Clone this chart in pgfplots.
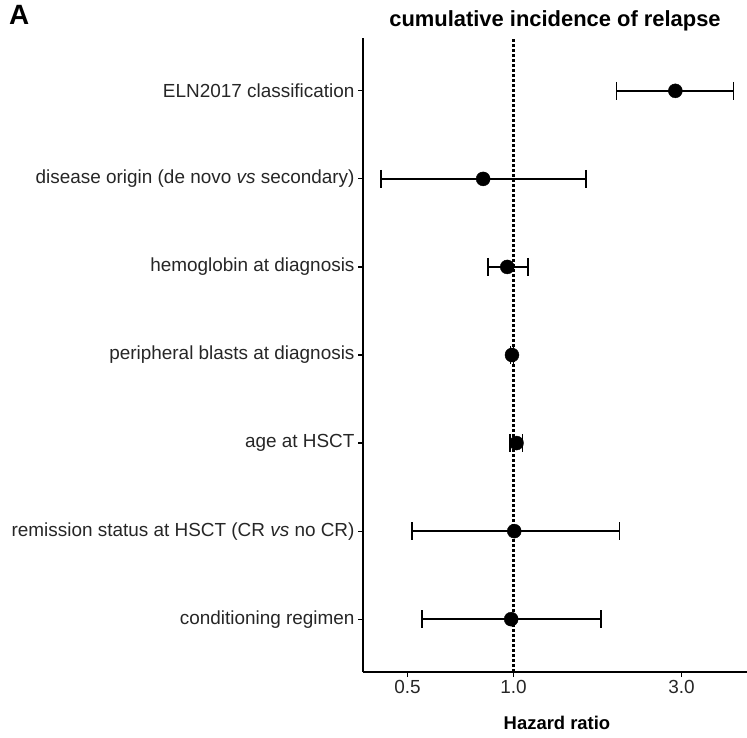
\documentclass[border=0pt]{standalone}
\usepackage{fontspec}
\setmainfont{Liberation Sans}
\usepackage{pgfplots}
\pgfplotsset{compat=1.18}
\usepackage{pgfplotstable}

% hazard ratios with 95% CI (row 7 = top)
\pgfplotstableread{
row hr    lo    hi
7   2.88  1.96  4.21
6   0.82  0.42  1.61
5   0.96  0.845 1.10
4   0.99  0.98  1.00
3   1.02  0.975 1.06
2   1.005 0.514 2.00
1   0.985 0.551 1.77
}\hrdata

\begin{document}
\begin{tikzpicture}
\useasboundingbox (0,0) rectangle (747bp,738bp);
\begin{axis}[
  at={(363bp,66bp)}, anchor=south west,
  scale only axis, width=384bp, height=634bp,
  xmode=log, xmin=0.374, xmax=4.6,
  ymin=0.4, ymax=7.6,
  axis lines=left,
  axis line style={-, line width=1.6bp},
  tick align=outside, major tick length=5bp,
  tick style={black, line width=1.2bp},
  xtick={0.5,1,3}, xticklabels={0.5,1.0,3.0},
  ytick={1,...,7},
  yticklabels={conditioning regimen,
    remission status at HSCT (CR \textit{vs} no CR),
    age at HSCT,
    peripheral blasts at diagnosis,
    hemoglobin at diagnosis,
    disease origin (de novo \textit{vs} secondary),
    ELN2017 classification},
  minor tick num=0,
  ticklabel style={font=\fontsize{19}{22}\selectfont, text=black!85},
  /pgf/number format/assume math mode=true,
  clip=false,
]
  \addplot[black, line width=2.2bp, dash pattern=on 2.5bp off 2.5bp]
    coordinates {(1,0.4) (1,7.6)};
  % CI segments
  \addplot[black, line width=1.8bp, no markers] table {
x y
1.96 7
4.21 7

0.42 6
1.61 6

0.845 5
1.10 5

0.98 4
1.00 4

0.975 3
1.06 3

0.514 2
2.00 2

0.551 1
1.77 1
};
  % caps
  \addplot[only marks, mark=|, mark size=9bp, black, mark options={line width=1.8bp}]
    table[x=lo, y=row] {\hrdata};
  \addplot[only marks, mark=|, mark size=9bp, black, mark options={line width=1.8bp}]
    table[x=hi, y=row] {\hrdata};
  % estimates
  \addplot[only marks, mark=*, mark size=7bp, black]
    table[x=hr, y=row] {\hrdata};
\end{axis}
\node[anchor=base, font=\bfseries\fontsize{22}{26}\selectfont] at (555bp,711bp) {cumulative incidence of relapse};
\node[anchor=base, font=\bfseries\fontsize{18.5}{22}\selectfont] at (557bp,9bp) {Hazard ratio};
\node[anchor=base west, inner sep=0pt, font=\bfseries\fontsize{28}{32}\selectfont] at (9bp,713bp) {A};
\end{tikzpicture}
\end{document}
